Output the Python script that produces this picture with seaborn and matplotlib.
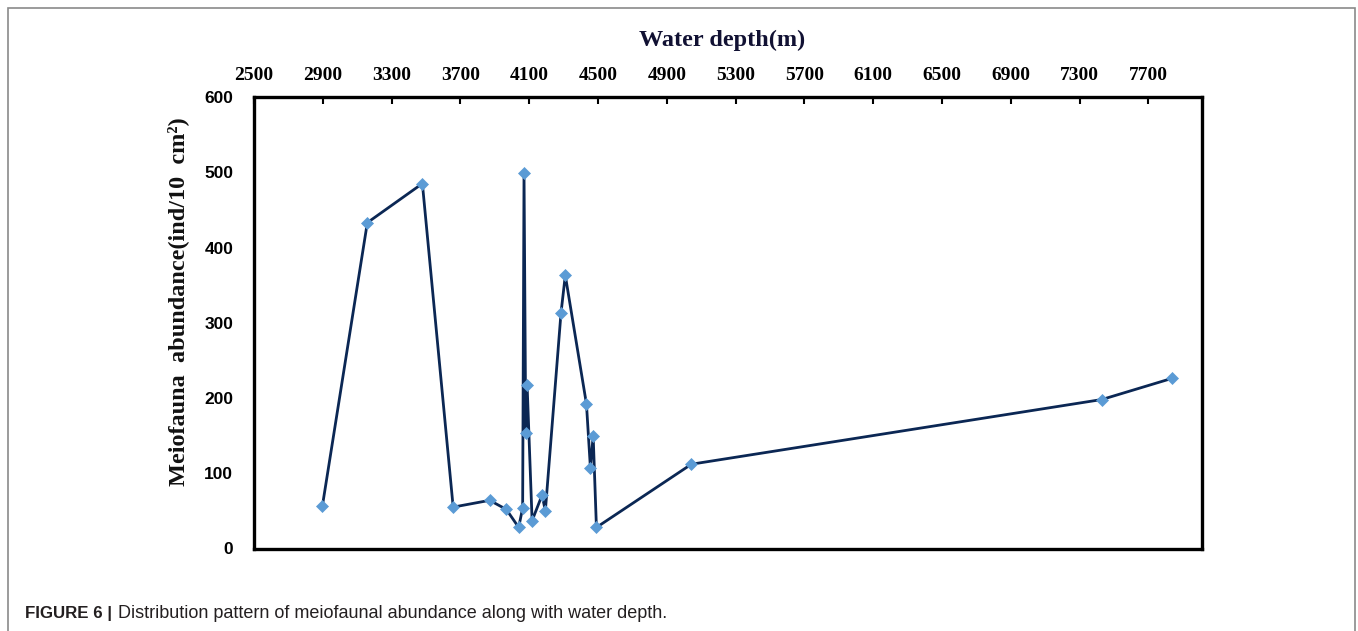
import matplotlib
matplotlib.use("Agg")
import matplotlib.pyplot as plt
from matplotlib.patches import Rectangle
import seaborn as sns
import pandas as pd

# Data
water_depth = [2898, 3159, 3479, 3658, 3870, 3967, 4039, 4062, 4070, 4080, 4088,
               4117, 4175, 4194, 4285, 4310, 4433, 4456, 4472, 4491, 5043, 7430, 7836]
abundance = [57, 433, 485, 55, 64, 52, 28, 54, 499, 154, 217,
             37, 71, 50, 313, 363, 192, 107, 150, 28, 112, 198, 226]
x_ticks = list(range(2500, 7701, 400))
y_ticks = [0, 100, 200, 300, 400, 500, 600]

df = pd.DataFrame({"depth": water_depth, "abundance": abundance})

sns.set_style("white")
fig = plt.figure(figsize=(13.58, 6.31), dpi=100)
ax = fig.add_axes([254 / 1358, 1 - 548.5 / 631, (1202 - 254) / 1358, (548.5 - 97) / 631])

sns.lineplot(data=df, x="depth", y="abundance", ax=ax, estimator=None, sort=False,
             color="#0b2754", linewidth=2.0, marker="D", markersize=6.5,
             markerfacecolor="#5b9bd5", markeredgecolor="#5b9bd5", markeredgewidth=0.5)

ax.set_xlim(2500, 8012)
ax.set_ylim(0, 600)
ax.xaxis.tick_top()
ax.xaxis.set_label_position("top")
ax.set_xticks(x_ticks)
ax.set_xticklabels([str(t) for t in x_ticks], fontfamily="Liberation Serif",
                   fontweight="bold", fontsize=14)
ax.set_yticks(y_ticks)
ax.set_yticklabels([str(t) for t in y_ticks], fontfamily="Liberation Sans",
                   fontweight="bold", fontsize=12.5)
ax.tick_params(axis="x", direction="in", length=5, width=1.5, pad=9, colors="black")
ax.tick_params(axis="y", direction="in", length=5, width=1.5, pad=15, colors="black")
ax.tick_params(axis="x", bottom=False)
ax.tick_params(axis="y", right=False)

ax.set_xlabel("Water depth(m)", fontfamily="Liberation Serif", fontweight="bold",
              fontsize=17.5, color="#111133")
ax.xaxis.set_label_coords((722 - 254) / 948, 1 + (97 - 40) / 451.5)
ax.xaxis.label.set_va("center")
ax.set_ylabel("Meiofauna  abundance(ind/10  cm²)", fontfamily="Liberation Serif",
              fontweight="bold", fontsize=17.5, color="#111111")
ax.yaxis.set_label_coords((178 - 254) / 948, (548.5 - 302) / 451.5)
ax.yaxis.label.set_va("center")

for s in ax.spines.values():
    s.set_visible(True)
    s.set_linewidth(2.4)
    s.set_color("black")

# Outer frame and caption
fig.patches.append(Rectangle((8 / 1358, -0.05), (1355 - 8) / 1358, 1.05 - 8 / 631,
                             transform=fig.transFigure, fill=False,
                             edgecolor="#8a8a8a", linewidth=1.2))
fig.text(25 / 1358, 1 - 618 / 631, "FIGURE 6 |", fontfamily="Liberation Sans",
         fontweight="bold", fontsize=12.2, va="baseline", ha="left", color="#231f20")
fig.text(118 / 1358, 1 - 618 / 631, "Distribution pattern of meiofaunal abundance along with water depth.",
         fontfamily="Liberation Sans", fontsize=13.0, va="baseline", ha="left", color="#231f20")

fig.savefig("out.png", dpi=100)
